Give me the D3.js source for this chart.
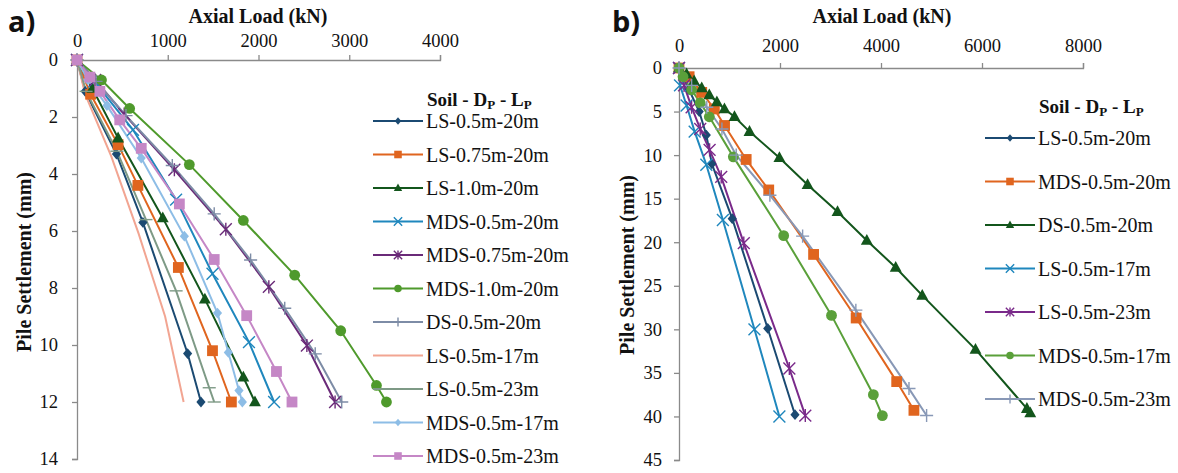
<!DOCTYPE html>
<html>
<head>
<meta charset="utf-8">
<script src="https://cdn.jsdelivr.net/npm/d3@7"></script>
<style>
  body { margin: 0; background: #fff; }
  svg { display: block; }
  text { font-family: "Liberation Serif", "Times New Roman", serif; fill: #111; }
</style>
</head>
<body>
<div id="chart"></div>
<script>
// Panel a) data: [axial load (kN), pile settlement (mm)]
const aLS05m20m = [[0,0],[90,1.1],[435,3.3],[726,5.7],[1219,10.3],[1366,12]];
const aLS075m20m = [[0,0],[150,1.2],[453,2.97],[671,4.4],[1117,7.28],[1493,10.2],[1701,12]];
const aLS10m20m = [[0,0],[170,1.0],[453,2.74],[945,5.54],[1409,8.39],[1833,11.13],[1961,12]];
const aMDS05m20m = [[0,0],[190,0.75],[617,2.45],[1092,4.9],[1493,7.5],[1895,9.9],[2172,12]];
const aMDS075m20m = [[0,0],[200,0.7],[520,1.9],[1073,3.85],[1640,5.94],[2114,7.96],[2533,10.02],[2844,12]];
const aMDS10m20m = [[0,0],[270,0.7],[580,1.7],[1238,3.67],[1833,5.63],[2399,7.55],[2906,9.5],[3300,11.42],[3410,12]];
const aDS05m20m = [[0,0],[210,0.75],[540,1.95],[1050,3.7],[1512,5.4],[1913,7.02],[2289,8.71],[2625,10.31],[2917,12]];
const aLS05m17m = [[0,0],[90,1.2],[380,3.4],[680,6.1],[971,9.0],[1175,12]];
const aLS05m23m = [[0,0],[100,1.1],[440,3.2],[760,5.6],[1092,8.1],[1457,11.5],[1512,12]];
const aMDS05m17m = [[0,0],[120,0.7],[330,1.6],[708,3.44],[1183,6.18],[1548,8.88],[1668,10.26],[1785,11.6],[1822,12]];
const aMDS05m23m = [[0,0],[142,0.6],[252,1.1],[471,2.1],[708,3.1],[1128,5.05],[1512,7.0],[1870,8.97],[2198,10.93],[2369,12]];

// Panel b) data
const bLS05m20m = [[0,0],[200,2.5],[400,5],[541,7.7],[650,11],[1054,17.3],[1757,29.9],[2297,39.8]];
const bMDS05m20m = [[0,0],[200,1],[450,2.8],[700,4.7],[902,6.6],[1330,10.5],[1777,14],[2665,21.4],[3508,28.7],[4311,36],[4652,39.3]];
const bDS05m20m = [[0,0],[150,0.7],[300,1.5],[450,2.3],[600,3.1],[750,3.9],[900,4.7],[1099,5.6],[1396,7.3],[1988,10.3],[2546,13.4],[3139,16.5],[3719,19.8],[4291,22.9],[4817,26.1],[5871,32.3],[6889,39.1],[6956,39.6]];
const bLS05m17m = [[0,0],[20,2],[150,4.3],[310,7.3],[541,11.1],[869,17.45],[1494,30],[1988,40]];
const bLS05m23m = [[0,0],[100,2],[250,4.5],[420,7],[606,9.4],[836,12.5],[1283,20.1],[2185,34.5],[2501,39.9]];
const bMDS05m17m = [[0,0],[80,1],[250,2.5],[420,4],[600,5.6],[1076,10.2],[2073,19.25],[3020,28.4],[3849,37.5],[4027,39.9]];
const bMDS05m23m = [[0,0],[250,2],[550,4.5],[850,7],[1133,10],[1800,14.6],[2448,19.3],[3502,27.8],[4554,36.8],[4903,39.9]];

const aNames = ['LS-0.5m-20m','LS-0.75m-20m','LS-1.0m-20m','MDS-0.5m-20m','MDS-0.75m-20m',
  'MDS-1.0m-20m','DS-0.5m-20m','LS-0.5m-17m','LS-0.5m-23m','MDS-0.5m-17m','MDS-0.5m-23m'];
const aValues = [aLS05m20m,aLS075m20m,aLS10m20m,aMDS05m20m,aMDS075m20m,aMDS10m20m,
  aDS05m20m,aLS05m17m,aLS05m23m,aMDS05m17m,aMDS05m23m];
const aColors = ['#1b4a72','#e0651f','#13561c','#1f87bd','#6a2a78','#4f9a2c',
  '#7d8ca6','#f2a592','#7e9a86','#8dbde6','#c587c6'];
const aMarkers = ['diamond','square','triangle','x','asterisk','circle','plus','none','dash','diamond','square'];

const bNames = ['LS-0.5m-20m','MDS-0.5m-20m','DS-0.5m-20m','LS-0.5m-17m','LS-0.5m-23m','MDS-0.5m-17m','MDS-0.5m-23m'];
const bValues = [bLS05m20m,bMDS05m20m,bDS05m20m,bLS05m17m,bLS05m23m,bMDS05m17m,bMDS05m23m];
const bColors = ['#1b4a72','#e0651f','#13561c','#1f87bd','#7a2a8a','#5aa03a','#8898b6'];
const bMarkers = ['diamond','square','triangle','x','asterisk','circle','plus'];

const aXTicks = [0,1000,2000,3000,4000];
const aYTicks = [0,2,4,6,8,10,12,14];
const bXTicks = [0,2000,4000,6000,8000];
const bYTicks = [0,5,10,15,20,25,30,35,40,45];

const svg = d3.select('#chart').append('svg')
  .attr('width', 1178).attr('height', 473);

// Draw one marker of the given kind centered at (x, y)
function marker(g, kind, x, y, color, k) {
  if (kind === 'none') return;
  const m = g.append('g').attr('transform', `translate(${x},${y})`);
  const s = 5.4 * k;
  if (kind === 'diamond') {
    m.append('path').attr('d', `M0,${-s}L${s * 0.85},0L0,${s}L${-s * 0.85},0Z`).attr('fill', color);
  } else if (kind === 'square') {
    m.append('rect').attr('x', -s).attr('y', -s).attr('width', 2 * s).attr('height', 2 * s)
      .attr('fill', color);
  } else if (kind === 'triangle') {
    m.append('path').attr('d', `M0,${-s * 1.2}L${s * 1.1},${s * 0.8}L${-s * 1.1},${s * 0.8}Z`)
      .attr('fill', color);
  } else if (kind === 'circle') {
    m.append('circle').attr('r', s).attr('fill', color);
  } else {
    const p = d3.path();
    const r = s * 1.1;
    if (kind === 'x' || kind === 'asterisk') {
      p.moveTo(-r, -r); p.lineTo(r, r); p.moveTo(-r, r); p.lineTo(r, -r);
    }
    if (kind === 'asterisk' || kind === 'plus') {
      p.moveTo(0, -r * 1.1); p.lineTo(0, r * 1.1);
    }
    if (kind === 'plus' || kind === 'dash') {
      p.moveTo(-r * 1.1, 0); p.lineTo(r * 1.1, 0);
    }
    m.append('path').attr('d', p.toString()).attr('stroke', color)
      .attr('stroke-width', 1.4).attr('fill', 'none');
  }
}

function panel(opt) {
  const x = d3.scaleLinear().domain(opt.xDomain).range(opt.xRange);
  const y = d3.scaleLinear().domain(opt.yDomain).range(opt.yRange);
  const g = svg.append('g');

  // Axes: load axis on top, settlement axis pointing down
  const xAxis = g.append('g').attr('transform', `translate(0,${opt.yRange[0]})`)
    .call(d3.axisTop(x).tickValues(opt.xTicks).tickSize(5).tickPadding(opt.xPad).tickFormat(d3.format('d')));
  const yAxis = g.append('g').attr('transform', `translate(${opt.xRange[0]},0)`)
    .call(d3.axisLeft(y).tickValues(opt.yTicks).tickSize(5).tickPadding(opt.yPad).tickFormat(d3.format('d')));
  [xAxis, yAxis].forEach(a => {
    a.select('.domain').attr('stroke', '#8a8a8a').attr('stroke-width', 1.3);
    a.selectAll('.tick line').attr('stroke', '#8a8a8a').attr('stroke-width', 1.3);
    a.selectAll('.tick text').attr('font-family', '"Liberation Serif", serif')
      .attr('font-size', 18.5).attr('fill', '#111');
  });

  g.append('text').attr('x', opt.xTitle[0]).attr('y', opt.xTitle[1])
    .attr('text-anchor', 'middle').attr('font-size', 20).attr('font-weight', 'bold')
    .text('Axial Load (kN)');
  g.append('text')
    .attr('transform', `translate(${opt.yTitle[0]},${opt.yTitle[1]}) rotate(-90)`)
    .attr('text-anchor', 'middle').attr('font-size', 20).attr('font-weight', 'bold')
    .text('Pile Settlement (mm)');
  g.append('text').attr('x', opt.label[0]).attr('y', opt.label[1])
    .style('font-family', '"Open Sans", "DejaVu Sans", sans-serif')
    .attr('font-size', 29).attr('font-weight', 'bold').text(opt.labelText);

  const line = d3.line().x(d => x(d[0])).y(d => y(d[1]));
  opt.values.forEach((vals, i) => {
    g.append('path').datum(vals).attr('d', line).attr('fill', 'none')
      .attr('stroke', opt.colors[i]).attr('stroke-width', 2);
  });
  opt.values.forEach((vals, i) => {
    vals.forEach(d => marker(g, opt.markers[i], x(d[0]), y(d[1]), opt.colors[i], 1));
  });

  // Legend
  const lg = g.append('g');
  const t = lg.append('text').attr('x', opt.legend.x + 54).attr('y', opt.legend.titleY)
    .attr('font-size', 19).attr('font-weight', 'bold');
  t.append('tspan').text('Soil - D');
  t.append('tspan').attr('font-size', 13).attr('dy', 3).text('P');
  t.append('tspan').attr('dy', -3).text(' - L');
  t.append('tspan').attr('font-size', 13).attr('dy', 3).text('P');

  opt.names.forEach((name, i) => {
    const cy = opt.legend.y0 + i * opt.legend.step;
    const lx = opt.legend.x;
    lg.append('line').attr('x1', lx).attr('x2', lx + 50).attr('y1', cy).attr('y2', cy)
      .attr('stroke', opt.colors[i]).attr('stroke-width', 2);
    marker(lg, opt.markers[i], lx + 25, cy, opt.colors[i], 0.7);
    lg.append('text').attr('x', lx + 53).attr('y', cy).attr('dy', '0.35em')
      .attr('font-size', 20).text(name);
  });
}

panel({
  xDomain: [0, 4000], xRange: [77, 440],
  yDomain: [0, 14], yRange: [60, 459],
  xTicks: aXTicks, yTicks: aYTicks, xPad: 8.5, yPad: 14,
  xTitle: [258, 23], yTitle: [31, 262],
  label: [8, 32], labelText: 'a)',
  names: aNames, values: aValues, colors: aColors, markers: aMarkers,
  legend: { x: 373, titleY: 106, y0: 121, step: 33.5 }
});

panel({
  xDomain: [0, 8000], xRange: [679, 1083],
  yDomain: [0, 45], yRange: [68, 460],
  xTicks: bXTicks, yTicks: bYTicks, xPad: 11, yPad: 12,
  xTitle: [882, 23], yTitle: [634, 265],
  label: [612, 32], labelText: 'b)',
  names: bNames, values: bValues, colors: bColors, markers: bMarkers,
  legend: { x: 985, titleY: 113, y0: 138, step: 43.5 }
});
</script>
</body>
</html>
